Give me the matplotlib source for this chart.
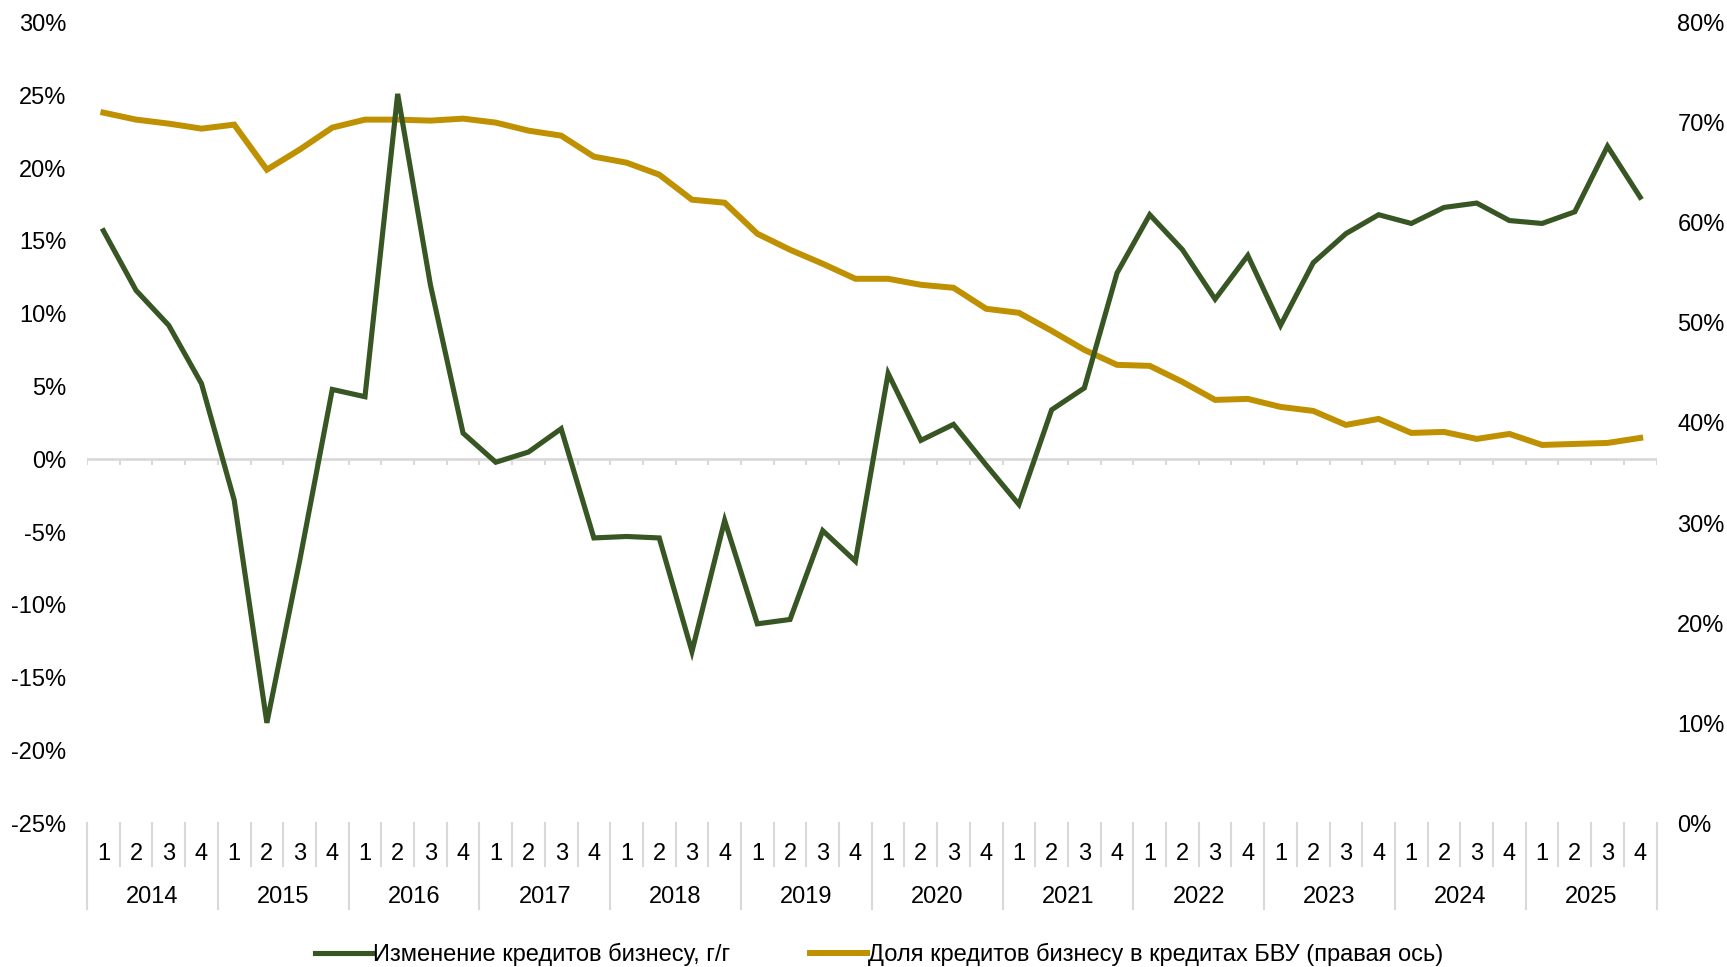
import numpy as np
import matplotlib
matplotlib.use("Agg")
import matplotlib.pyplot as plt
import matplotlib.transforms as mtransforms
from matplotlib.ticker import FuncFormatter, MultipleLocator

plt.rcParams['font.family'] = ['Liberation Sans', 'DejaVu Sans']

years = [str(y) for y in range(2014, 2026)]
quarters = ['1', '2', '3', '4']

# Изменение кредитов бизнесу, г/г (%), левая ось
growth = [15.7, 11.6, 9.2, 5.2,
          -2.8, -18.1, -7.0, 4.8,
          4.3, 25.1, 12.0, 1.8,
          -0.2, 0.5, 2.1, -5.4,
          -5.3, -5.4, -13.2, -4.2,
          -11.3, -11.0, -4.9, -7.0,
          5.9, 1.3, 2.4, -0.4,
          -3.1, 3.4, 4.9, 12.8,
          16.8, 14.4, 11.0, 14.0,
          9.2, 13.5, 15.5, 16.8,
          16.2, 17.3, 17.6, 16.4,
          16.2, 17.0, 21.5, 18.0]

# Доля кредитов бизнесу в кредитах БВУ (%), правая ось
share = [71.0, 70.3, 69.9, 69.4,
         69.8, 65.3, 67.3, 69.5,
         70.3, 70.3, 70.2, 70.4,
         70.0, 69.2, 68.7, 66.6,
         66.0, 64.8, 62.3, 62.0,
         58.9, 57.3, 55.9, 54.4,
         54.4, 53.8, 53.5, 51.4,
         51.0, 49.2, 47.3, 45.8,
         45.7, 44.1, 42.3, 42.4,
         41.6, 41.2, 39.8, 40.4,
         39.0, 39.1, 38.4, 38.9,
         37.8, 37.9, 38.0, 38.5]

green = '#375623'
gold = '#bf9000'
grid_gray = '#d9d9d9'
fs = 17

n = len(growth)
x = np.arange(n)

fig = plt.figure(figsize=(17.27, 9.67), dpi=100)
ax = fig.add_axes([0.0504, 0.1486, 0.9088, 0.8281])
ax2 = ax.twinx()

l1, = ax.plot(x, growth, color=green, lw=3.7, solid_joinstyle='miter',
              label='Изменение кредитов бизнесу, г/г', zorder=3)
l2, = ax2.plot(x, share, color=gold, lw=4.3, solid_joinstyle='miter',
               label='Доля кредитов бизнесу в кредитах БВУ (правая ось)', zorder=2)
ax.set_zorder(ax2.get_zorder() + 1)
ax.patch.set_visible(False)

ax.set_xlim(-0.5, n - 0.5)
ax.set_ylim(-25, 30)
ax2.set_ylim(0, 80)
ax.yaxis.set_major_locator(MultipleLocator(5))
ax2.yaxis.set_major_locator(MultipleLocator(10))
pct = FuncFormatter(lambda v, p: f"{int(round(v))}%")
ax.yaxis.set_major_formatter(pct)
ax2.yaxis.set_major_formatter(pct)

for a in (ax, ax2):
    for s in a.spines.values():
        s.set_visible(False)
ax.tick_params(axis='y', length=0, pad=15, labelsize=fs)
ax2.tick_params(axis='y', length=0, pad=15, labelsize=fs)

# нулевая линия с засечками
ax.axhline(0, color=grid_gray, lw=2, zorder=1)
bounds = np.arange(n + 1) - 0.5
ax.vlines(bounds, -0.42, 0, color=grid_gray, lw=1.5, zorder=1)

# двухуровневая подпись оси X
ax.set_xticks(x)
ax.set_xticklabels([q for y in years for q in quarters])
ax.tick_params(axis='x', length=0, pad=14, labelsize=fs)

trans = mtransforms.blended_transform_factory(ax.transData, ax.transAxes)
h = ax.get_position().height * fig.get_figheight() * 100
q_depth = 43 / h
y_depth = 86 / h
for i, b in enumerate(bounds):
    d = y_depth if i % 4 == 0 else q_depth
    ax.plot([b, b], [0, -d], transform=trans, color=grid_gray, lw=1.5,
            clip_on=False)
for k, yr in enumerate(years):
    ax.text(4 * k + 1.5, -74 / h, yr, transform=trans, ha='center',
            va='center', fontsize=fs)

fig.legend(handles=[l1, l2], loc='center', bbox_to_anchor=(0.509, 0.013),
           ncol=2, frameon=False, fontsize=fs, handlelength=2.4,
           handletextpad=0.05, columnspacing=3.4)

fig.savefig('out.png', dpi=100)
